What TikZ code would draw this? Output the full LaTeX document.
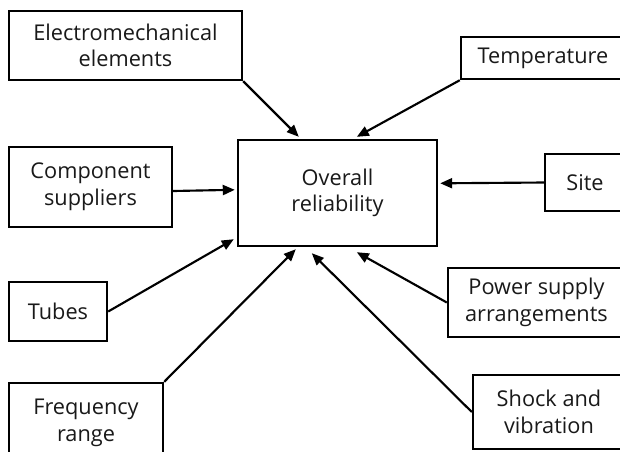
\documentclass[tikz,border=0pt]{standalone}
\usepackage{fontspec}
\setmainfont{Open Sans}
\usetikzlibrary{arrows.meta,calc}
\tikzset{
  box/.style={draw=black, line width=1.8pt, fill=white, align=center, inner sep=0pt,
    font=\fontsize{16.3}{20}\selectfont, text=black!90},
  conn/.style={line width=1.6pt, -{Triangle[length=9pt,width=7.5pt]}}
}
\begin{document}
\begin{tikzpicture}[x=0.75pt,y=-0.75pt]
\useasboundingbox (0,0) rectangle (620,451);
\clip (0,0) rectangle (620,451);
\fill[white] (0,0) rectangle (620,451);
\node[box, minimum width=233*0.75pt, minimum height=69*0.75pt] (em) at (125.5,45.5) {Electromechanical\\elements};
\node[box, minimum width=163*0.75pt, minimum height=80*0.75pt] (comp) at (90.5,187) {Component\\suppliers};
\node[box, minimum width=199*0.75pt, minimum height=106*0.75pt] (o) at (337.5,193) {Overall\\reliability};
\node[box, minimum width=164*0.75pt, minimum height=42*0.75pt] (temp) at (543,58) {Temperature};
\node[box, minimum width=80*0.75pt, minimum height=57*0.75pt] (site) at (585,182.5) {Site};
\node[box, minimum width=98*0.75pt, minimum height=59*0.75pt] (tubes) at (58,311.5) {Tubes};
\node[box, minimum width=154*0.75pt, minimum height=80*0.75pt] (freq) at (86,423) {Frequency\\range};
\node[box, minimum width=177*0.75pt, minimum height=69*0.75pt] (power) at (536.5,302.5) {Power supply\\arrangements};
\node[box, minimum width=152*0.75pt, minimum height=74*0.75pt] (shock) at (549,412) {Shock and\\vibration};

\draw[conn] (em.south east) -- ($(o.north west)+(62,-2)$);
\draw[conn] (temp.south west) -- ($(o.north west)+(120,-2)$);
\draw[conn] ($(comp.east)+(0,4)$) -- ($(o.north west)+(-2,51)$);
\draw[conn] (site.west) -- ($(o.north east)+(2,44.5)$);
\draw[conn] (tubes.east) -- ($(o.south west)+(-3,-8)$);
\draw[conn] (freq.north east) -- ($(o.south west)+(59,2)$);
\draw[conn] (power.west) -- ($(o.south west)+(120,5)$);
\draw[conn] (shock.west) -- ($(o.south west)+(75,6)$);
\end{tikzpicture}
\end{document}
